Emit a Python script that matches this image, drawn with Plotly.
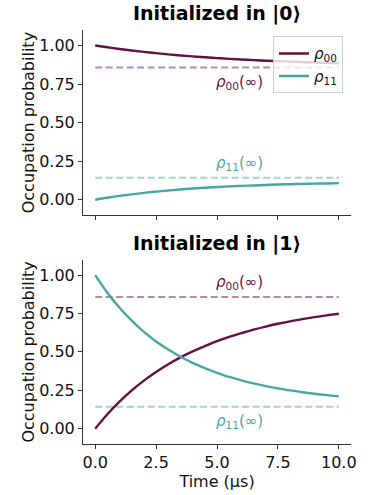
import plotly.graph_objects as go
from plotly.subplots import make_subplots

time_us = [0.0, 0.5, 1.0, 1.5, 2.0, 2.5, 3.0, 3.5, 4.0, 4.5, 5.0,
           5.5, 6.0, 6.5, 7.0, 7.5, 8.0, 8.5, 9.0, 9.5, 10.0]

# Initialized in |0>
top_rho00 = [1.000, 0.988, 0.977, 0.967, 0.958, 0.950, 0.942, 0.935, 0.929, 0.923, 0.918,
             0.913, 0.909, 0.905, 0.901, 0.898, 0.895, 0.892, 0.889, 0.887, 0.885]
top_rho11 = [0.000, 0.013, 0.025, 0.035, 0.045, 0.053, 0.060, 0.067, 0.073, 0.078, 0.083,
             0.087, 0.090, 0.093, 0.096, 0.099, 0.101, 0.103, 0.105, 0.106, 0.108]

# Initialized in |1>
bot_rho00 = [0.000, 0.094, 0.176, 0.249, 0.313, 0.369, 0.419, 0.464, 0.503, 0.538, 0.570,
             0.598, 0.622, 0.645, 0.665, 0.683, 0.699, 0.713, 0.726, 0.738, 0.748]
bot_rho11 = [1.000, 0.885, 0.787, 0.703, 0.630, 0.568, 0.515, 0.468, 0.428, 0.394, 0.364,
             0.337, 0.315, 0.295, 0.277, 0.262, 0.249, 0.237, 0.227, 0.218, 0.210]

rho00_inf = 0.857
rho11_inf = 0.143
inf_span = [0.0, 10.0]

y_ticks = [0.0, 0.25, 0.5, 0.75, 1.0]
x_ticks = [0.0, 2.5, 5.0, 7.5, 10.0]
titles = ["Initialized in |0⟩", "Initialized in |1⟩"]

PURPLE = "#621144"
TEAL = "#45a7a2"
PURPLE_L = "#b68aa4"
TEAL_L = "#a4d4d1"
FONT = "DejaVu Sans"
FS = 16

fig = make_subplots(rows=2, cols=1)

panels = [(top_rho00, top_rho11), (bot_rho00, bot_rho11)]
for i, (r00, r11) in enumerate(panels, start=1):
    fig.add_trace(go.Scatter(x=inf_span, y=[rho00_inf] * 2, mode="lines",
                             line=dict(color=PURPLE_L, width=2, dash="7px,3.5px"),
                             showlegend=False, hoverinfo="skip"), row=i, col=1)
    fig.add_trace(go.Scatter(x=inf_span, y=[rho11_inf] * 2, mode="lines",
                             line=dict(color=TEAL_L, width=2, dash="7px,3.5px"),
                             showlegend=False, hoverinfo="skip"), row=i, col=1)
    fig.add_trace(go.Scatter(x=time_us, y=r00, mode="lines",
                             line=dict(color=PURPLE, width=2.4, shape="spline"),
                             name="<i>ρ</i><sub>00</sub>", showlegend=(i == 1)), row=i, col=1)
    fig.add_trace(go.Scatter(x=time_us, y=r11, mode="lines",
                             line=dict(color=TEAL, width=2.4, shape="spline"),
                             name="<i>ρ</i><sub>11</sub>", showlegend=(i == 1)), row=i, col=1)

axis_common = dict(range=[-0.5, 10.5], showline=True, linecolor="#333", linewidth=1,
                   ticks="outside", ticklen=4, tickcolor="#333", tickvals=x_ticks,
                   tickformat=".1f", showgrid=False, zeroline=False,
                   tickfont=dict(family=FONT, size=FS, color="#111"))
fig.update_xaxes(**axis_common)
fig.update_xaxes(showticklabels=False, row=1, col=1)
fig.update_xaxes(title=dict(text="Time (µs)", font=dict(family=FONT, size=FS, color="#111"),
                            standoff=0), row=2, col=1)
fig.update_yaxes(range=[-0.1, 1.1], showline=True, linecolor="#333", linewidth=1,
                 ticks="outside", ticklen=4, tickcolor="#333", tickvals=y_ticks,
                 tickformat=".2f", showgrid=False, zeroline=False,
                 tickfont=dict(family=FONT, size=FS, color="#111"),
                 title=dict(text="Occupation probability",
                            font=dict(family=FONT, size=FS, color="#111"), standoff=0))

fig.update_layout(
    xaxis=dict(domain=[0, 1], anchor="y"),
    xaxis2=dict(domain=[0, 1], anchor="y2"),
    yaxis=dict(domain=[0.5526, 1.0]),
    yaxis2=dict(domain=[0.0, 0.445]),
)

# titles
for i, (t, yref) in enumerate(zip(titles, ["y domain", "y2 domain"])):
    fig.add_annotation(text="<b>" + t + "</b>", xref="x domain" if i == 0 else "x2 domain",
                       yref=yref, x=0.5, y=1.0, yanchor="bottom", showarrow=False, yshift=3,
                       font=dict(family=FONT, size=19, color="#000"))

lab00 = "<i>ρ</i><sub>00</sub>(∞)"
lab11 = "<i>ρ</i><sub>11</sub>(∞)"
ann = [
    ("x", "y", 5.93, 0.76, lab00, PURPLE),
    ("x", "y", 5.93, 0.237, lab11, TEAL),
    ("x2", "y2", 5.93, 0.951, lab00, PURPLE),
    ("x2", "y2", 5.93, 0.047, lab11, TEAL),
]
for xr, yr, x, y, txt, c in ann:
    fig.add_annotation(xref=xr, yref=yr, x=x, y=y, text=txt, showarrow=False,
                       font=dict(family=FONT, size=15, color=c))

fig.update_layout(
    width=376, height=495,
    margin=dict(l=83, r=25, t=30, b=47),
    plot_bgcolor="white", paper_bgcolor="white",
    font=dict(family=FONT, size=FS, color="#111"),
    legend=dict(x=0.97, y=0.985, xref="paper", yref="paper", xanchor="right", yanchor="top",
                bgcolor="rgba(255,255,255,0.8)", bordercolor="#d0d0d0", borderwidth=1,
                font=dict(family=FONT, size=15, color="#111"), itemwidth=30,
                tracegroupgap=0),
    showlegend=True,
)

fig.write_html("out.html")
